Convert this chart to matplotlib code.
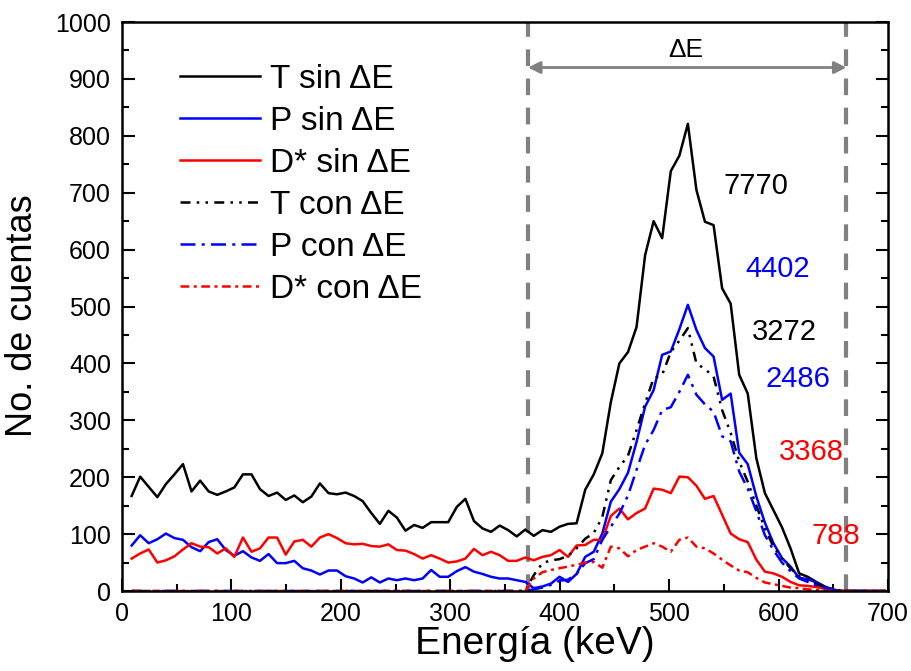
import matplotlib
matplotlib.use("Agg")
import matplotlib.pyplot as plt
from matplotlib.ticker import MultipleLocator

plt.rcParams['font.family'] = ['Liberation Sans', 'DejaVu Sans']

energy = [8.8, 16.6, 24.4, 32.3, 40.1, 47.9, 55.7, 63.5, 71.4, 79.2,
          87.0, 94.8, 102.6, 110.5, 118.3, 126.1, 133.9, 141.7, 149.6, 157.4,
          165.2, 173.0, 180.8, 188.7, 196.5, 204.3, 212.1, 219.9, 227.8, 235.6,
          243.4, 251.2, 259.0, 266.9, 274.7, 282.5, 290.3, 298.1, 306.0, 313.8,
          321.6, 329.4, 337.2, 345.1, 352.9, 360.7, 368.5, 376.3, 384.2, 392.0,
          399.8, 407.6, 415.4, 423.3, 431.1, 438.9, 446.7, 454.5, 462.4, 470.2,
          478.0, 485.8, 493.6, 501.5, 509.3, 517.1, 524.9, 532.7, 540.6, 548.4,
          556.2, 564.0, 571.8, 579.7, 587.5, 595.3, 603.1, 610.9, 618.8, 626.6,
          634.4, 642.2, 650.0, 657.9, 665.7, 673.5, 681.3, 689.1, 697.0]

T_sin = [167, 201, 183, 165, 188, 205, 223, 175, 194, 175,
         169, 175, 182, 205, 205, 179, 167, 173, 160, 168,
         156, 166, 189, 172, 170, 173, 167, 158, 137, 118,
         141, 129, 106, 116, 111, 121, 121, 121, 148, 162,
         123, 110, 104, 115, 107, 96, 108, 97, 107, 104,
         113, 118, 119, 178, 205, 242, 332, 400, 420, 464,
         590, 650, 620, 738, 765, 821, 705, 649, 643, 532,
         505, 380, 347, 233, 172, 142, 112, 75, 31, 25,
         16, 8, 2, 0, 0, 0, 0, 0, 0]

P_sin = [80, 98, 84, 91, 101, 93, 90, 77, 70, 86,
         91, 72, 62, 70, 59, 53, 65, 49, 49, 53,
         40, 36, 29, 36, 36, 26, 22, 15, 24, 15,
         22, 19, 22, 19, 22, 37, 25, 25, 35, 42,
         34, 30, 25, 22, 22, 19, 16, 5, 8, 13,
         25, 16, 30, 60, 69, 101, 157, 179, 208, 262,
         324, 353, 415, 421, 460, 503, 459, 427, 412, 336,
         347, 243, 223, 166, 120, 84, 58, 43, 23, 21,
         15, 7, 2, 0, 0, 0, 0, 0, 0]

D_sin = [57, 66, 73, 50, 54, 61, 73, 84, 78, 77,
         66, 75, 60, 94, 69, 75, 94, 94, 64, 87,
         90, 78, 94, 100, 93, 84, 82, 83, 79, 78,
         82, 72, 71, 65, 57, 63, 57, 50, 52, 57,
         74, 63, 69, 63, 53, 53, 59, 54, 60, 63,
         72, 60, 80, 81, 90, 90, 132, 145, 126, 137,
         145, 180, 178, 172, 201, 200, 185, 162, 167, 134,
         101, 91, 86, 55, 34, 31, 25, 16, 10, 9,
         7, 4, 2, 0, 0, 0, 0, 0, 0]

T_con = [0] * 47 + [28, 49, 54,
         56, 62, 75, 92, 102, 130, 195, 218, 238, 283,
         330, 374, 380, 420, 440, 462, 400, 390, 377, 318,
         278, 228, 192, 150, 110, 78, 57, 40, 26, 18,
         12, 7, 3, 0, 0, 0, 0, 0, 0]

P_con = [0] * 47 + [3, 6, 11,
         18, 20, 30, 49, 56, 90, 113, 136, 168, 213,
         257, 283, 318, 323, 350, 380, 345, 328, 315, 272,
         263, 210, 180, 140, 98, 72, 50, 35, 22, 16,
         10, 5, 2, 0, 0, 0, 0, 0, 0]

D_con = [0] * 47 + [22, 33, 37,
         40, 43, 46, 50, 51, 41, 78, 75, 61, 72,
         78, 84, 78, 69, 90, 94, 78, 75, 66, 55,
         45, 36, 33, 23, 15, 12, 9, 6, 5, 3,
         2, 1, 0, 0, 0, 0, 0, 0, 0]

labels = ["T sin \u0394E", "P sin \u0394E", "D* sin \u0394E",
          "T con \u0394E", "P con \u0394E", "D* con \u0394E"]
totals = ["7770", "4402", "3272", "2486", "3368", "788"]
window = [371, 662]

fig = plt.figure(figsize=(9.12, 6.71), dpi=100)
ax = fig.add_axes([0.1338, 0.1192, 0.8399, 0.848])

lw = 1.8
ax.plot(energy, T_sin, color='black', lw=lw, label=labels[0])
ax.plot(energy, P_sin, color='#0000ff', lw=lw, label=labels[1])
ax.plot(energy, D_sin, color='#ff0000', lw=lw, label=labels[2])
ax.plot(energy, T_con, color='black', lw=lw, dashes=(4, 2.5, 1, 2.5, 1, 2.5), label=labels[3])
ax.plot(energy, P_con, color='#0000ff', lw=lw, dashes=(6, 2.5, 1.2, 2.5), label=labels[4])
ax.plot(energy, D_con, color='#ff0000', lw=lw, dashes=(3.5, 1.8, 1.2, 1.8), label=labels[5])

for xv in window:
    ax.axvline(xv, color='#808080', lw=3, dashes=(4, 3), zorder=1)

ax.annotate('', xy=(window[0], 920), xytext=(window[1], 920),
            arrowprops=dict(arrowstyle='<|-|>', color='#808080', lw=2,
                            mutation_scale=18, shrinkA=0, shrinkB=0))
ax.text(515.5, 951, '\u0394E', fontsize=19, ha='center', va='center')

ax.text(579, 712, totals[0], color='black', fontsize=21, ha='center', va='center')
ax.text(599, 566, totals[1], color='#0000ff', fontsize=21, ha='center', va='center')
ax.text(605, 456, totals[2], color='black', fontsize=21, ha='center', va='center')
ax.text(618, 372, totals[3], color='#0000ff', fontsize=21, ha='center', va='center')
ax.text(630, 245, totals[4], color='#ff0000', fontsize=21, ha='center', va='center')
ax.text(652, 97, totals[5], color='#ff0000', fontsize=21, ha='center', va='center')

ax.set_xlim(0, 700)
ax.set_ylim(0, 1000)
ax.xaxis.set_major_locator(MultipleLocator(100))
ax.xaxis.set_minor_locator(MultipleLocator(50))
ax.yaxis.set_major_locator(MultipleLocator(100))
ax.yaxis.set_minor_locator(MultipleLocator(50))
ax.tick_params(which='both', direction='in', top=False, right=True, width=1.5,
               labelsize=18, pad=8)
ax.tick_params(which='major', length=9)
ax.tick_params(which='minor', length=5)
for s in ax.spines.values():
    s.set_linewidth(1.8)

ax.set_xlabel('Energ\u00eda (keV)', fontsize=28)
ax.set_ylabel('No. de cuentas', fontsize=26)
ax.xaxis.set_label_coords(0.539, -0.0615)
ax.yaxis.set_label_coords(-0.107, 0.483)

ax.legend(loc='upper left', bbox_to_anchor=(0.0757, 0.926), frameon=False,
          fontsize=24, handlelength=2.4, labelspacing=0.33, handletextpad=0.3,
          borderpad=0, borderaxespad=0)

fig.savefig('out.png', dpi=100)
